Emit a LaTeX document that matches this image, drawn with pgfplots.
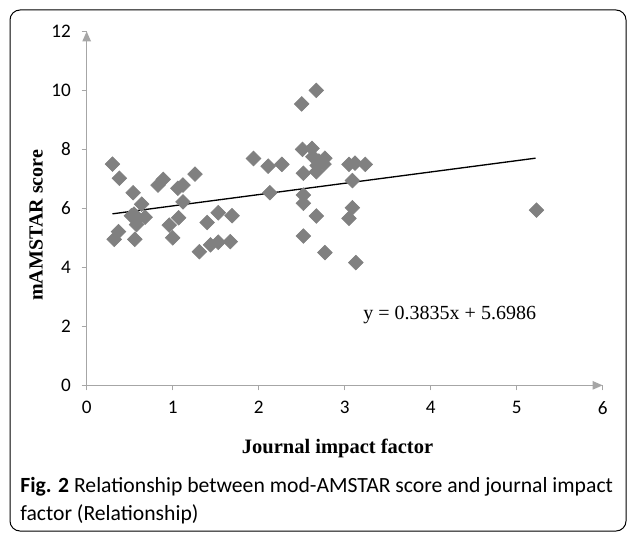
\documentclass[border=0pt]{standalone}
\usepackage{fontspec}
\setmainfont{Liberation Serif}
\newfontfamily\carlito{Carlito}
\usepackage{pgfplots}
\pgfplotsset{compat=1.18}
\usetikzlibrary{arrows.meta}
\definecolor{markgray}{RGB}{128,128,128}
\definecolor{axgray}{RGB}{166,166,166}
\begin{document}
\begin{tikzpicture}
\useasboundingbox (0,0) rectangle (376.2pt,319.2pt);
\draw[line width=0.6pt, rounded corners=6pt] (6pt,0.6pt) rectangle (375.6pt,313.2pt);
\begin{axis}[
  at={(52pt,88pt)}, anchor=origin,
  scale only axis, width=309.6pt, height=212.4pt,
  xmin=0, xmax=6, ymin=0, ymax=12,
  axis lines=left,
  axis line style={axgray, line width=0.9pt, -{Triangle[length=6pt,width=5pt]}},
  xtick={0,...,6}, ytick={0,2,...,12},
  tick align=outside, major tick length=3pt,
  tick style={axgray, line width=0.9pt},
  ticklabel style={font=\carlito\fontsize{11.5}{13}\selectfont},
  /pgf/number format/assume math mode=true,
  xticklabel style={yshift=-3pt},
  yticklabel style={xshift=-3pt},
  clip=false,
]
% scatter of journals
\addplot[only marks, mark=square*, mark size=3.1pt,
  mark options={rotate=45, fill=markgray, draw=markgray}] coordinates {
(0.30,7.50) (0.38,7.02) (0.37,5.21) (0.32,4.95) (0.54,6.53) (0.64,6.14)
(0.52,5.75) (0.60,5.65) (0.68,5.70) (0.58,5.45) (0.55,5.80) (0.56,4.95)
(0.83,6.79) (0.89,6.98) (0.96,5.43) (1.00,5.00) (1.06,6.68) (1.12,6.79)
(1.12,6.22) (1.07,5.68) (1.26,7.16) (1.31,4.53) (1.40,5.52) (1.44,4.76)
(1.53,5.85) (1.53,4.85) (1.67,4.87) (1.69,5.75) (1.94,7.69) (2.11,7.43)
(2.13,6.53) (2.27,7.49) (2.50,9.54) (2.51,8.00) (2.52,7.19) (2.52,6.45)
(2.52,6.17) (2.52,5.06) (2.62,8.03) (2.63,7.75) (2.68,7.45) (2.70,7.60)
(2.77,7.70) (2.76,7.50) (2.67,7.24) (2.67,10.00) (2.67,5.74) (2.77,4.50)
(3.05,7.49) (3.12,7.53) (3.09,6.94) (3.09,6.02) (3.05,5.66) (3.13,4.16)
(3.24,7.49) (5.23,5.94)
};
% linear trend
\addplot[black, line width=0.8pt] coordinates {(0.30,5.8137) (5.22,7.7005)};
\node[anchor=west, font=\fontsize{12}{14}\selectfont] at (axis cs:3.15,2.4) {y = 0.3835x + 5.6986};
\end{axis}
\node[font=\bfseries\fontsize{12.3}{14}\selectfont] at (202.5pt,50.4pt) {Journal impact factor};
\node[rotate=90, font=\bfseries\fontsize{12}{14}\selectfont] at (21.6pt,184pt) {mAMSTAR score};
\node[anchor=west, inner sep=0pt, font=\carlito\fontsize{13}{15}\selectfont] at (12pt,27pt)
  {\textbf{Fig. 2} Relationship between mod-AMSTAR score and journal impact};
\node[anchor=west, inner sep=0pt, font=\carlito\fontsize{13}{15}\selectfont] at (12pt,10.5pt)
  {factor (Relationship)};
\end{tikzpicture}
\end{document}
